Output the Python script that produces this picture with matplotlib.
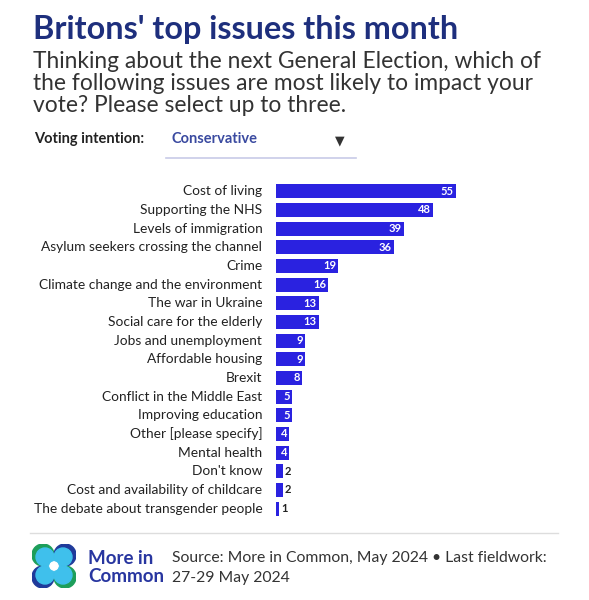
import matplotlib
matplotlib.use("Agg")
import matplotlib.pyplot as plt
from matplotlib.patches import Circle, Ellipse

categories = ["Cost of living", "Supporting the NHS", "Levels of immigration",
              "Asylum seekers crossing the channel", "Crime",
              "Climate change and the environment", "The war in Ukraine",
              "Social care for the elderly", "Jobs and unemployment",
              "Affordable housing", "Brexit", "Conflict in the Middle East",
              "Improving education", "Other [please specify]", "Mental health",
              "Don't know", "Cost and availability of childcare",
              "The debate about transgender people"]
values = [55, 48, 39, 36, 19, 16, 13, 13, 9, 9, 8, 5, 5, 4, 4, 2, 2, 1]

W, H = 589, 600
fig = plt.figure(figsize=(W/100, H/100), dpi=100)
fig.patch.set_facecolor("white")
FONT = "Lato"
navy = "#1e2f7d"
bar_c = "#2a22e0"

def fx(x): return x / W
def fy(y): return 1 - y / H

fig.text(fx(33), fy(30), "Britons' top issues this month", fontsize=23.3, fontweight="bold",
         color=navy, family=FONT, va="center")
for i, line in enumerate(["Thinking about the next General Election, which of",
                          "the following issues are most likely to impact your",
                          "vote? Please select up to three."]):
    fig.text(fx(33), fy(62 + i * 22), line, fontsize=16.4, color="#333333", family=FONT, va="center")
fig.text(fx(34), fy(139), "Voting intention:", fontsize=10.5, fontweight="bold", color="#222222",
         family=FONT, va="center")
fig.text(fx(171), fy(139), "Conservative", fontsize=10.5, fontweight="bold", color="#3a4aa0",
         family=FONT, va="center")
fig.text(fx(340), fy(141), "▼", fontsize=9, color="#333333", va="center", ha="center")
fig.add_artist(plt.Line2D([fx(166), fx(356)], [fy(158), fy(158)], color="#c8cbe8", lw=1.2))

ax = fig.add_axes([fx(276), fy(518), fx(560) - fx(276), (518 - 182) / H])
n = len(values)
y = list(range(n))
ax.barh(y, values, height=0.75, color=bar_c)
ax.set_ylim(n - 0.5, -0.5)
ax.set_xlim(0, 284 / 3.27)
ax.axis("off")
for yi, v, c in zip(y, values, categories):
    ax.text(-4.2, yi, c, ha="right", va="center", fontsize=9.9, color="#222222", family=FONT)
    if v >= 3:
        ax.text(v - 0.6, yi, str(v), ha="right", va="center", fontsize=8, fontweight="bold",
                color="white", family=FONT)
    else:
        ax.text(v + 0.6, yi, str(v), ha="left", va="center", fontsize=8, fontweight="bold",
                color="#222222", family=FONT)

fig.add_artist(plt.Line2D([fx(30), fx(558)], [fy(533), fy(533)], color="#dddddd", lw=1))

# logo
lax = fig.add_axes([fx(32), fy(588), fx(44), 44 / H])
lax.set_xlim(0, 44); lax.set_ylim(0, 44); lax.axis("off"); lax.set_aspect("equal")
for cx, cy, col in [(11, 33, "#1d9e5a"), (33, 33, "#1f3a9a"), (11, 11, "#1f3a9a"), (33, 11, "#1d9e5a")]:
    lax.add_patch(Circle((cx, cy), 11, color=col))
for cx, cy in [(13, 31), (31, 31), (13, 13), (31, 13)]:
    lax.add_patch(Circle((cx, cy), 9, color="#3fc0ec"))
lax.add_patch(Ellipse((22, 22), 8, 8, color="white"))

fig.text(fx(88), fy(558), "More in", fontsize=13.5, fontweight="bold", color="#2836a0",
         family=FONT, va="center")
fig.text(fx(88), fy(577), "Common", fontsize=13.5, fontweight="bold", color="#2836a0",
         family=FONT, va="center")
fig.text(fx(172), fy(558), "Source: More in Common, May 2024 • Last fieldwork:", fontsize=11.3,
         color="#333333", family=FONT, va="center")
fig.text(fx(172), fy(578), "27-29 May 2024", fontsize=11.3, color="#333333", family=FONT, va="center")

fig.savefig("out.png", dpi=100)
